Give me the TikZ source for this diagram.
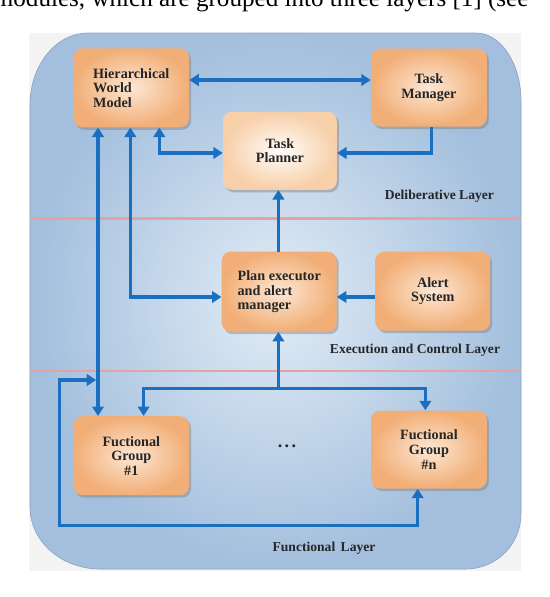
\documentclass[tikz,border=0pt]{standalone}
\usepackage{fontspec}
\setmainfont{Liberation Serif}
\usetikzlibrary{arrows.meta,shadows}
\definecolor{arrblue}{HTML}{1B6FC0}
\definecolor{sepred}{HTML}{E3A3A3}
\definecolor{panelin}{HTML}{E2ECF6}
\definecolor{panelout}{HTML}{A3BFDD}
\definecolor{boxin}{HTML}{FDE7D4}
\definecolor{boxout}{HTML}{F1AE76}
\definecolor{tpin}{HTML}{FFFDFA}
\definecolor{tpout}{HTML}{F7CFA8}
\definecolor{txt}{HTML}{262626}
\begin{document}
\begin{tikzpicture}[x=1pt,y=-1pt,
  modbox/.style={rounded corners=9pt, minimum width=115.5pt, minimum height=79pt,
    inner color=boxin, outer color=boxout, text=txt,
    font=\bfseries\fontsize{14.2}{14.6}\selectfont,
    drop shadow={opacity=0.45, shadow xshift=2pt, shadow yshift=-2.5pt}},
  lightbox/.style={modbox, inner color=tpin, outer color=tpout},
  lbl/.style={text=txt, font=\bfseries\fontsize{13.6}{15}\selectfont},
  arr/.style={draw=arrblue, line width=3.5pt,
    arrows={-Triangle[length=9.5pt,width=11.5pt]}},
  darr/.style={arr, arrows={Triangle[length=9.5pt,width=11.5pt]-Triangle[length=9.5pt,width=11.5pt]}},
  sep/.style={draw=sepred, line width=2.5pt}]
\useasboundingbox (0,0) rectangle (549,597);
\fill[white] (0,0) rectangle (549,597);
% clipped text line of the page above
\node[anchor=base west, inner sep=0pt, text=black, font=\fontsize{25.1}{28}\selectfont] (toptext) at (-6.3,6) {modules, which are grouped into three layers [1] (see};
% background card
\fill[gray!9] (29,33) rectangle (521,571);
\shade[inner color=panelin, outer color=panelout, draw=panelout!85!black, line width=0.6pt]
  (30,105) arc[start angle=180, end angle=270, x radius=58, y radius=72] -- (476,33)
  arc[start angle=270, end angle=360, x radius=45, y radius=68] -- (521,514)
  arc[start angle=0, end angle=90, x radius=55, y radius=55] -- (100,569)
  arc[start angle=90, end angle=180, x radius=70, y radius=62] -- cycle;
% layer separators
\draw[sep] (30,218.3) -- (521,218.3);
\draw[sep] (30,371) -- (521,371);
% modules
\node[modbox, align=left] (hwm) at (131.3,87.8) {Hierarchical\\World\\Model};
\node[modbox, align=center, minimum width=115.7pt, minimum height=78pt] (tm) at (428.9,87.5) {Task\\Manager};
\node[lightbox, align=center, minimum width=113.8pt, minimum height=78pt] (tp) at (279.9,150.8) {Task\\Planner};
\node[modbox, align=left, minimum width=115pt, minimum height=80pt] (pe) at (279.2,291.7) {Plan executor\\and alert\\manager};
\node[modbox, align=center, minimum width=114.8pt] (as) at (432.8,291.2) {Alert\\System};
\node[modbox, align=center] (fg1) at (131.3,455.7) {Fuctional\\Group\\\#1};
\node[modbox, align=center, minimum width=115.7pt, minimum height=78pt] (fgn) at (428.9,449.5) {Fuctional\\Group\\\#n};
\node[text=txt, font=\bfseries\fontsize{18}{20}\selectfont] (dots) at (287,446) {.\hspace{2.5pt}.\hspace{2.5pt}.};
% layer labels
\node[lbl] (dl) at (439.4,196.7) {Deliberative Layer};
\node[lbl] (ecl) at (415,350.7) {Execution and Control Layer};
\node[lbl] (fl) at (324,548.7) {Functional\hspace{2pt} Layer};
% coordinates
\coordinate (bus) at (278.4,388.3);
\coordinate (tap) at (96.2,380);
\coordinate (lt) at (59.5,380);
\coordinate (lb) at (59.5,525.3);
% connectors
\draw[darr] ([yshift=7.8pt]hwm.east) -- ([yshift=7.5pt]tm.west);
\draw[darr] ([xshift=28pt]hwm.south) |- ([yshift=-2.2pt]tp.west);
\draw[arr] ([xshift=2.5pt]tm.south) |- ([yshift=-2.2pt]tp.east);
\draw[arr] (pe.north -| bus) -- (bus |- tp.south);
\draw[darr] ([xshift=-1pt]hwm.south) |- ([yshift=-5.3pt]pe.west);
\draw[darr] ([xshift=-33.3pt]hwm.south) -- ([xshift=-33.3pt]fg1.north);
\draw[arr] ([yshift=-5.8pt]as.west) -- ([yshift=-5.3pt]pe.east);
\draw[arr] (bus) -- (bus |- pe.south);
\draw[arr] (bus) -| ([xshift=12.3pt]fg1.north);
\draw[arr] (bus) -| ([xshift=-3.5pt]fgn.north);
\draw[darr] (tap) -- (lt) -- (lb) -| ([xshift=-11.2pt]fgn.south);
\end{tikzpicture}
\end{document}
